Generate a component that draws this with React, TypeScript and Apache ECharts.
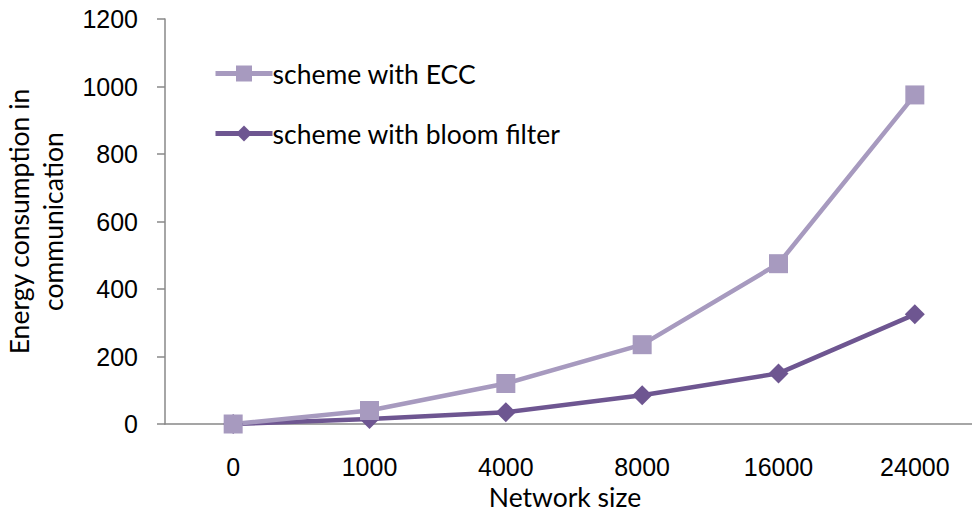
import React, { useEffect, useRef } from "react";
import * as echarts from "echarts";

const categories = ["0", "1000", "4000", "8000", "16000", "24000"];
const eccValues = [0, 40, 120, 235, 475, 975];
const bloomValues = [0, 15, 35, 85, 150, 325];
const yTicks = { min: 0, max: 1200, interval: 200 };

export default function App() {
  const ref = useRef<HTMLDivElement>(null);
  useEffect(() => {
    if (!ref.current) return;
    const chart = echarts.init(ref.current, undefined, { renderer: "svg" });
    const titleFont = "Lato, 'Open Sans', sans-serif";
    const tickFont = "'Liberation Sans', Arial, sans-serif";
    chart.setOption({
      animation: false,
      backgroundColor: "#ffffff",
      grid: { left: 165, top: 19, right: -11, bottom: 86, containLabel: false, outerBoundsMode: "none" },
      legend: {
        orient: "vertical",
        left: 213,
        top: 60,
        padding: 0,
        itemWidth: 57,
        itemHeight: 20,
        itemGap: 33,
        data: ["scheme with ECC", "scheme with bloom filter"],
        lineStyle: { width: 5 },
        textStyle: { fontFamily: titleFont, fontSize: 26.5, color: "#000", padding: [0, 0, 0, -5] },
      },
      xAxis: {
        type: "category",
        data: categories,
        boundaryGap: true,
        name: "Network size",
        nameLocation: "middle",
        nameGap: 58,
        nameTextStyle: {
          fontFamily: titleFont,
          fontSize: 26.5,
          lineHeight: 24,
          verticalAlign: "top",
          color: "#000",
          padding: [0, 18, 0, 0],
        },
        axisLine: { lineStyle: { color: "#888", width: 1.5 } },
        axisTick: { show: false },
        axisLabel: { fontFamily: tickFont, fontSize: 25, color: "#000", margin: 30 },
        splitLine: { show: false },
      },
      yAxis: {
        type: "value",
        min: yTicks.min,
        max: yTicks.max,
        interval: yTicks.interval,
        name: "Energy consumption in\ncommunication",
        nameLocation: "middle",
        nameGap: 95,
        nameTextStyle: { fontFamily: titleFont, fontSize: 26.5, color: "#000", lineHeight: 34 },
        axisLine: { show: true, lineStyle: { color: "#888", width: 1.5 } },
        axisTick: { show: true, inside: false, length: 8, lineStyle: { color: "#888", width: 1.5 } },
        axisLabel: {
          fontFamily: tickFont,
          fontSize: 25,
          color: "#000",
          margin: 27,
          formatter: (v: number) => String(v),
        },
        splitLine: { show: false },
      },
      series: [
        {
          name: "scheme with bloom filter",
          type: "line",
          data: bloomValues,
          symbol: "diamond",
          symbolSize: 20,
          lineStyle: { color: "#6E5691", width: 4.5 },
          itemStyle: { color: "#6E5691" },
        },
        {
          name: "scheme with ECC",
          type: "line",
          data: eccValues,
          symbol: "rect",
          symbolSize: 19,
          lineStyle: { color: "#A79ABF", width: 4.5 },
          itemStyle: { color: "#A79ABF" },
        },
      ],
    });
    return () => chart.dispose();
  }, []);
  return (
    <div
      ref={ref}
      style={{ position: "fixed", left: 0, top: 0, width: 972, height: 510 }}
    />
  );
}
